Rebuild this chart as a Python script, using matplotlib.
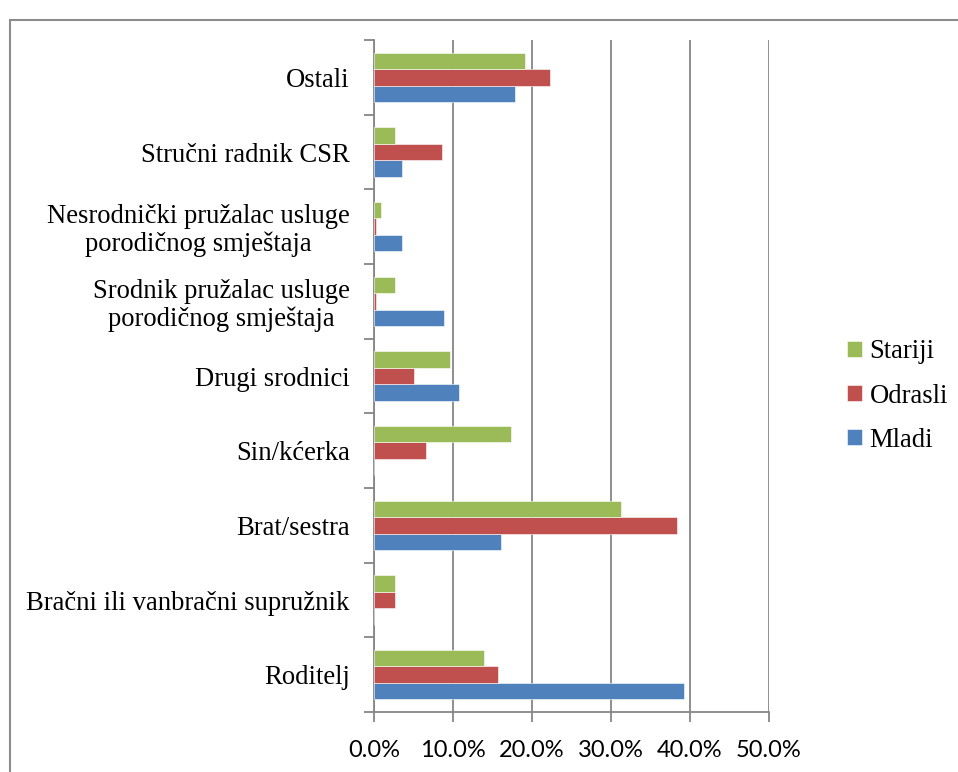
import numpy as np
import matplotlib.pyplot as plt
from matplotlib.patches import Rectangle
from matplotlib.ticker import FixedLocator, FuncFormatter

# categories from bottom to top
categories = ["Roditelj",
              "Bračni ili vanbračni supružnik",
              "Brat/sestra",
              "Sin/kćerka",
              "Drugi srodnici",
              "Srodnik pružalac usluge\nporodičnog smještaja",
              "Nesrodnički pružalac usluge\nporodičnog smještaja",
              "Stručni radnik CSR",
              "Ostali"]

mladi = [39.3, 0.0, 16.1, 0.0, 10.7, 8.9, 3.6, 3.6, 17.9]
odrasli = [15.7, 2.6, 38.4, 6.6, 5.1, 0.3, 0.3, 8.6, 22.3]
stariji = [13.9, 2.6, 31.3, 17.4, 9.6, 2.6, 0.9, 2.6, 19.1]

series_names = ["Mladi", "Odrasli", "Stariji"]
colors = ["#4F81BD", "#C0504D", "#9BBB59"]
xticks = [0, 10, 20, 30, 40, 50]

W, H = 958, 772
fig = plt.figure(figsize=(W / 100, H / 100), dpi=100)
ax = fig.add_axes([374 / W, (H - 712) / H, (769 - 374) / W, (712 - 40) / H])

y = np.arange(len(categories))
h = 0.22
bars = []
for k, (vals, col, name) in enumerate(zip([mladi, odrasli, stariji], colors, series_names)):
    b = ax.barh(y + (k - 1) * h, vals, height=h, color=col, label=name,
                edgecolor="white", linewidth=0.4, zorder=3)
    bars.append(b)

grid_col = "#868686"
ax.set_xlim(0, 50)
ax.set_ylim(-0.5, len(categories) - 0.5)
ax.set_xticks(xticks)
ax.xaxis.set_major_formatter(FuncFormatter(lambda v, p: f"{v:.1f}%"))
ax.grid(axis="x", color=grid_col, linewidth=1.3, zorder=1)

ax.set_yticks(y)
ax.set_yticklabels(categories, fontfamily="Liberation Serif", fontsize=19.2,
                   multialignment="center", linespacing=1.1)
ax.yaxis.set_minor_locator(FixedLocator(np.arange(-0.5, len(categories), 1)))
ax.tick_params(axis="y", which="major", length=0, pad=17.5)
ax.tick_params(axis="y", which="minor", length=7, width=1.3, color=grid_col)
ax.tick_params(axis="x", length=7, width=1.3, color=grid_col, pad=13,
               labelsize=17)
for lab in ax.get_xticklabels():
    lab.set_fontfamily("Lato")

for s in ["top", "right"]:
    ax.spines[s].set_visible(False)
for s in ["left", "bottom"]:
    ax.spines[s].set_color(grid_col)
    ax.spines[s].set_linewidth(1.3)

handles = [bars[2], bars[1], bars[0]]
leg = fig.legend(handles, ["Stariji", "Odrasli", "Mladi"],
                 loc="center left", bbox_to_anchor=(823 / W, 1 - 396 / H),
                 frameon=False, handlelength=0.55, handleheight=0.55,
                 handletextpad=0.3, labelspacing=0.72,
                 prop={"family": "Liberation Serif", "size": 19.2})

# outer chart border (cropped at the right and bottom)
fig.add_artist(Rectangle((10 / W, -0.1), 1.2, 1 - 20 / H + 0.1,
                         transform=fig.transFigure, fill=False,
                         edgecolor="#8C8C8C", linewidth=1.5))

fig.savefig("out.png", dpi=100)
